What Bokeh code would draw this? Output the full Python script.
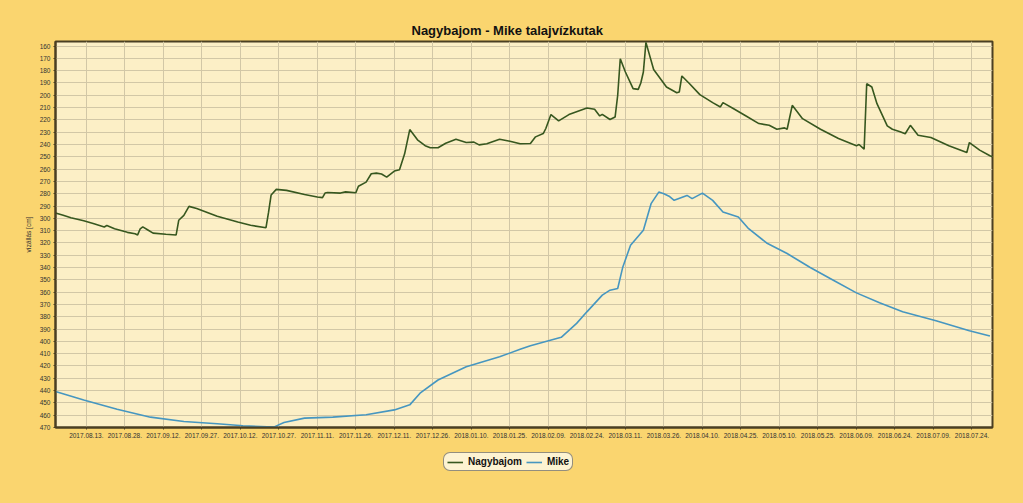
import pandas as pd
from bokeh.plotting import figure
from bokeh.layouts import column
from bokeh.models import (Range1d, FixedTicker, DatetimeTickFormatter, Legend,
                          LegendItem, ColumnDataSource)
from bokeh.embed import file_html
from bokeh.resources import INLINE

chart_title = "Nagybajom - Mike talajvízkutak"
y_label = "vízállás [cm]"
series_names = ["Nagybajom", "Mike"]

nagybajom_dates = [
    "2017-08-01", "2017-08-04", "2017-08-07", "2017-08-12", "2017-08-16", "2017-08-20",
    "2017-08-21", "2017-08-24", "2017-08-29", "2017-09-01", "2017-09-02", "2017-09-03",
    "2017-09-04", "2017-09-06", "2017-09-08", "2017-09-13", "2017-09-17", "2017-09-18",
    "2017-09-20", "2017-09-22", "2017-09-25", "2017-10-03", "2017-10-11", "2017-10-16",
    "2017-10-22", "2017-10-23", "2017-10-24", "2017-10-26", "2017-10-30", "2017-11-06",
    "2017-11-11", "2017-11-13", "2017-11-14", "2017-11-15", "2017-11-20", "2017-11-22",
    "2017-11-26", "2017-11-27", "2017-11-30", "2017-12-02", "2017-12-04", "2017-12-06",
    "2017-12-08", "2017-12-11", "2017-12-13", "2017-12-15", "2017-12-17", "2017-12-20",
    "2017-12-23", "2017-12-25", "2017-12-28", "2017-12-31", "2018-01-04", "2018-01-08",
    "2018-01-11", "2018-01-13", "2018-01-16", "2018-01-21", "2018-01-25", "2018-01-29",
    "2018-02-02", "2018-02-04", "2018-02-07", "2018-02-08", "2018-02-10", "2018-02-13",
    "2018-02-17", "2018-02-24", "2018-02-27", "2018-03-01", "2018-03-02", "2018-03-05",
    "2018-03-07", "2018-03-08", "2018-03-09", "2018-03-11", "2018-03-14", "2018-03-16",
    "2018-03-17", "2018-03-18", "2018-03-19", "2018-03-22", "2018-03-27", "2018-03-31",
    "2018-04-01", "2018-04-02", "2018-04-05", "2018-04-09", "2018-04-14", "2018-04-17",
    "2018-04-18", "2018-04-22", "2018-04-27", "2018-05-02", "2018-05-06", "2018-05-09",
    "2018-05-12", "2018-05-13", "2018-05-15", "2018-05-19", "2018-05-26", "2018-06-02",
    "2018-06-09", "2018-06-10", "2018-06-12", "2018-06-13", "2018-06-15", "2018-06-17",
    "2018-06-21", "2018-06-23", "2018-06-26", "2018-06-28", "2018-06-30", "2018-07-03",
    "2018-07-08", "2018-07-15", "2018-07-22", "2018-07-23", "2018-07-27", "2018-07-31",
    "2018-08-01",
]
nagybajom_values = [
    295.7, 297.5, 299.5, 302.0, 304.5, 307.0,
    305.8, 308.5, 311.4, 312.5, 313.5, 308.5,
    307.0, 309.5, 312.0, 313.0, 313.5, 301.6,
    297.6, 290.3, 292.0, 298.4, 303.0, 305.7,
    307.6, 295.0, 281.0, 276.5, 277.3, 280.6,
    282.7, 283.2, 279.5, 279.0, 279.5, 278.5,
    279.2, 274.0, 270.6, 263.8, 263.3, 264.0,
    266.5, 261.6, 260.5, 247.6, 227.9, 236.2,
    241.0, 242.7, 242.7, 239.0, 235.7, 238.4,
    238.1, 240.3, 239.4, 235.7, 237.3, 239.4,
    239.2, 233.8, 231.1, 227.0, 215.7, 220.8,
    215.7, 210.3, 211.4, 216.8, 215.5, 219.7,
    217.6, 200.0, 170.3, 181.1, 194.6, 195.2,
    190.0, 181.1, 157.0, 179.0, 193.3, 197.9,
    197.3, 184.3, 190.6, 199.5, 206.0, 209.5,
    206.0, 210.8, 216.8, 223.0, 224.4, 227.6,
    226.5, 227.6, 208.2, 219.0, 227.6, 235.2,
    241.1, 240.0, 243.8, 190.6, 193.3, 206.8,
    224.9, 227.6, 229.7, 231.3, 224.4, 232.5,
    234.3, 241.1, 246.5, 238.4, 244.6, 249.2,
    250.0,
]

mike_dates = [
    "2017-08-01", "2017-08-12", "2017-08-25", "2017-09-07", "2017-09-20", "2017-10-03",
    "2017-10-13", "2017-10-25", "2017-10-29", "2017-11-06", "2017-11-17", "2017-11-30",
    "2017-12-11", "2017-12-17", "2017-12-21", "2017-12-28", "2018-01-08", "2018-01-21",
    "2018-01-29", "2018-02-02", "2018-02-14", "2018-02-20", "2018-02-24", "2018-03-02",
    "2018-03-05", "2018-03-08", "2018-03-10", "2018-03-13", "2018-03-18", "2018-03-21",
    "2018-03-24", "2018-03-26", "2018-03-28", "2018-03-30", "2018-04-04", "2018-04-06",
    "2018-04-10", "2018-04-14", "2018-04-18", "2018-04-24", "2018-04-28", "2018-05-05",
    "2018-05-13", "2018-05-22", "2018-05-31", "2018-06-09", "2018-06-18", "2018-06-27",
    "2018-07-10", "2018-07-23", "2018-07-31",
]
mike_values = [
    440.8, 447.6, 455.1, 461.6, 465.1, 467.0,
    468.6, 469.7, 466.0, 462.4, 461.6, 459.7,
    455.7, 451.6, 442.1, 431.4, 420.6, 412.5,
    406.5, 403.5, 396.7, 385.4, 376.0, 362.4,
    358.4, 357.0, 339.5, 321.9, 309.7, 288.1,
    278.7, 280.0, 282.0, 285.4, 281.4, 284.0,
    279.5, 285.4, 294.9, 298.9, 308.4, 320.0,
    328.6, 340.0, 350.3, 360.6, 368.7, 376.0,
    383.3, 391.4, 395.7,
]

x_tick_dates = [
    "2017-08-13", "2017-08-28", "2017-09-12", "2017-09-27", "2017-10-12", "2017-10-27",
    "2017-11-11", "2017-11-26", "2017-12-11", "2017-12-26", "2018-01-10", "2018-01-25",
    "2018-02-09", "2018-02-24", "2018-03-11", "2018-03-26", "2018-04-10", "2018-04-25",
    "2018-05-10", "2018-05-25", "2018-06-09", "2018-06-24", "2018-07-09", "2018-07-24",
]
y_ticks = [160, 170, 180, 190, 200, 210, 220, 230, 240, 250, 260, 270, 280, 290, 300,
           310, 320, 330, 340, 350, 360, 370, 380, 390, 400, 410, 420, 430, 440, 450,
           460, 470]
x_start, x_end = "2017-08-01", "2018-08-01"
y_bottom, y_top = 470, 156.3

FONT = "Liberation Sans"
BG_OUT = "#FAD56F"
BG_IN = "#FCEFC6"
GRID = "#D2C7A6"
GREEN = "#37571F"
BLUE = "#4696C0"
COLORS = [GREEN, BLUE]

FRAME_L, FRAME_R, FRAME_T, FRAME_B = 55, 992, 41, 427
MAIN_H = 445
p = figure(width=1023, height=MAIN_H, x_axis_type="datetime",
           output_backend="svg", toolbar_location=None,
           x_range=Range1d(pd.Timestamp(x_start), pd.Timestamp(x_end)),
           y_range=Range1d(y_bottom, y_top),
           min_border_left=FRAME_L, min_border_right=1023 - FRAME_R,
           min_border_top=FRAME_T, min_border_bottom=MAIN_H - FRAME_B)

p.background_fill_color = BG_IN
p.border_fill_color = BG_OUT
p.outline_line_color = "#4A3F22"
p.outline_line_width = 2

p.title.text = chart_title
p.title.align = "left"
p.title.offset = 356
p.title.standoff = 7
p.title.text_font = FONT
p.title.text_font_size = "13px"
p.title.text_font_style = "bold"
p.title.text_color = "#111111"

src_g = ColumnDataSource(dict(x=pd.to_datetime(nagybajom_dates), y=nagybajom_values))
src_b = ColumnDataSource(dict(x=pd.to_datetime(mike_dates), y=mike_values))
p.line("x", "y", source=src_g, line_color=GREEN, line_width=1.6)
p.line("x", "y", source=src_b, line_color=BLUE, line_width=1.6)

tick_ms = [pd.Timestamp(d).value // 10**6 for d in x_tick_dates]
p.xaxis.ticker = FixedTicker(ticks=tick_ms)
fmt = "%Y.%m.%d."
p.xaxis.formatter = DatetimeTickFormatter(
    microseconds=fmt, milliseconds=fmt, seconds=fmt, minsec=fmt, minutes=fmt,
    hourmin=fmt, hours=fmt, days=fmt, months=fmt, years=fmt)
p.yaxis.ticker = FixedTicker(ticks=y_ticks)

for ax in (p.xaxis[0], p.yaxis[0]):
    ax.major_label_text_font = FONT
    ax.major_label_text_font_size = "6.5px"
    ax.major_label_text_color = "#333333"
    ax.major_tick_out = 2
    ax.major_tick_in = 0
    ax.minor_tick_out = 0
    ax.minor_tick_in = 0
    ax.major_tick_line_color = "#4A3F22"
    ax.axis_line_color = "#4A3F22"
    ax.axis_line_width = 2
    ax.major_label_standoff = 3

p.yaxis.axis_label = y_label
p.yaxis.axis_label_text_font = FONT
p.yaxis.axis_label_text_font_size = "6.5px"
p.yaxis.axis_label_text_font_style = "normal"
p.yaxis.axis_label_text_color = "#333333"
p.yaxis.axis_label_standoff = 5

p.xgrid.grid_line_color = GRID
p.ygrid.grid_line_color = GRID
p.xgrid.grid_line_width = 1
p.ygrid.grid_line_width = 1

# legend strip below the chart
LEG_H = 503 - MAIN_H
q = figure(width=1023, height=LEG_H, output_backend="svg", toolbar_location=None,
           x_range=Range1d(0, 1), y_range=Range1d(0, 1),
           min_border_left=FRAME_L, min_border_right=1023 - FRAME_R,
           min_border_top=0, min_border_bottom=0,
           x_axis_location=None, y_axis_location=None)
q.background_fill_alpha = 0
q.border_fill_alpha = 0
q.outline_line_color = None
q.xgrid.visible = False
q.ygrid.visible = False
items = []
for name, col in zip(series_names, COLORS):
    r = q.line(x=[5, 6], y=[5, 6], line_color=col, line_width=1.6)
    items.append(LegendItem(label=name, renderers=[r]))

leg_left, leg_bottom = 443, 471
legend = Legend(items=items, orientation="horizontal",
                location=(leg_left - FRAME_L, LEG_H - (leg_bottom - MAIN_H)))
legend.label_text_font = FONT
legend.label_text_font_size = "10px"
legend.label_text_font_style = "bold"
legend.label_text_color = "#111111"
legend.glyph_width = 16
legend.glyph_height = 10
legend.label_height = 10
legend.label_standoff = 5
legend.spacing = 4
legend.padding = 3
legend.margin = 0
legend.border_line_color = "#2A2A2A"
legend.border_line_width = 1.5
legend.background_fill_color = "#FDF3D2"
legend.background_fill_alpha = 1
if "border_radius" in Legend.properties():
    legend.border_radius = 7
q.add_layout(legend)

layout = column(p, q, spacing=0, styles={"background-color": BG_OUT})
open("out.html", "w").write(file_html(layout, INLINE))
